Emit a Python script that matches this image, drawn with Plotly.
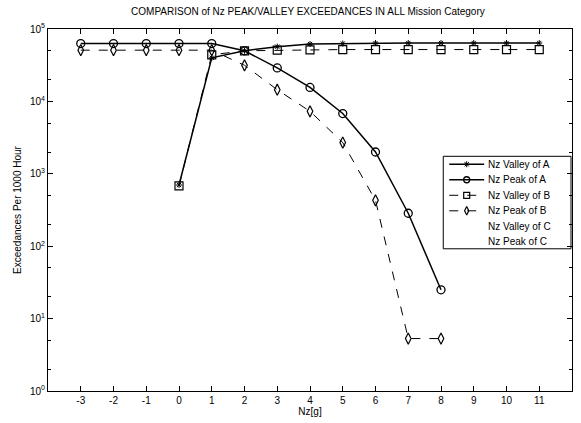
import plotly.graph_objects as go

# Load factor bins (g)
nz = [-3, -2, -1, 0, 1, 2, 3, 4, 5, 6, 7, 8, 9, 10, 11]
nz_labels = ["-3", "-2", "-1", "0", "1", "2", "3", "4", "5", "6", "7", "8", "9", "10", "11"]

# Exceedances per 1000 hours for each series (None = no data)
valley_a = [None, None, None, 700, 40000, 50000, 57000, 62000, 63000, 64000, 64000, 64000, 64000, 64000, 64000]
peak_a = [63000, 63000, 63000, 63000, 63000, 50000, 29000, 15600, 6800, 2000, 285, 25, None, None, None]
valley_b = [None, None, None, 680, 44000, 50000, 51000, 51500, 52000, 52000, 52000, 52000, 52000, 52000, 52000]
peak_b = [51000, 51000, 51000, 51000, 51000, 31500, 14500, 7300, 2700, 430, 5.3, 5.3, None, None, None]

series_names = ["Nz Valley of A", "Nz Peak of A", "Nz Valley of B",
                "Nz Peak of B", "Nz Valley of C", "Nz Peak of C"]

y_tickvals = [1, 10, 100, 1000, 10000, 100000]
y_ticktext = ["10<sup>0</sup>", "10<sup>1</sup>", "10<sup>2</sup>",
              "10<sup>3</sup>", "10<sup>4</sup>", "10<sup>5</sup>"]

FONT = "Liberation Sans, Arial, sans-serif"

# Line/marker style per series; category C has no recorded exceedances
styles = [
    dict(line=dict(color="black", width=1.5),
         marker=dict(symbol="asterisk-open", size=5, color="black", line=dict(width=1))),
    dict(line=dict(color="black", width=1.5),
         marker=dict(symbol="circle-open", size=8, color="black", line=dict(width=1.3))),
    dict(line=dict(color="black", width=1, dash="dash"),
         marker=dict(symbol="square-open", size=8, color="black", line=dict(width=1.2))),
    dict(line=dict(color="black", width=1, dash="dash"),
         marker=dict(symbol="diamond-tall-open", size=8, color="black", line=dict(width=1.2))),
    None,
    None,
]

fig = go.Figure()
for name, ys, st in zip(series_names[:4], [valley_a, peak_a, valley_b, peak_b], styles[:4]):
    fig.add_trace(go.Scatter(x=nz, y=ys, name=name, mode="lines+markers",
                             showlegend=False, **st))

# Legend drawn on an overlay axis measured in pixels of the plot area
LX0, LX1, LY0, LY1 = 444, 572, 157, 250
row_y0, row_dy = 165, 15.6
sample_x = [450, 467.5, 485]
fig.add_shape(type="rect", xref="x2", yref="y2", x0=LX0, x1=LX1, y0=LY0, y1=LY1,
              line=dict(color="black", width=1), fillcolor="white", layer="below")
for i, (name, st) in enumerate(zip(series_names, styles)):
    ry = row_y0 + i * row_dy
    if st is not None:
        fig.add_trace(go.Scatter(
            x=sample_x, y=[ry] * 3, xaxis="x2", yaxis="y2", mode="lines",
            line=st["line"], showlegend=False, hoverinfo="skip"))
        key_marker = dict(st["marker"])
        key_marker["size"] = max(5, st["marker"]["size"] - 2)
        fig.add_trace(go.Scatter(
            x=[sample_x[1]], y=[ry], xaxis="x2", yaxis="y2", mode="markers",
            marker=key_marker, showlegend=False, hoverinfo="skip"))
    fig.add_annotation(xref="x2", yref="y2", x=487, y=ry, text=name,
                       showarrow=False, xanchor="left", yanchor="middle",
                       font=dict(family=FONT, size=10, color="black"))

axis_common = dict(
    ticks="inside", ticklen=5, tickcolor="black",
    showline=True, linecolor="black", linewidth=1, mirror="ticks",
    showgrid=False, zeroline=False,
)

fig.update_layout(
    width=581, height=423,
    margin=dict(l=48, r=8, t=29, b=30),
    paper_bgcolor="white", plot_bgcolor="white",
    font=dict(family=FONT, size=10, color="black"),
    title=dict(
        text="COMPARISON of Nz PEAK/VALLEY EXCEEDANCES IN ALL Mission Category",
        x=0.53, xanchor="center", y=0.972, yanchor="middle",
        font=dict(family=FONT, size=10, color="black"),
    ),
    showlegend=False,
    xaxis=dict(
        range=[-4, 12], tickmode="array", tickvals=nz, ticktext=nz_labels,
        title=dict(text="Nz[g]", standoff=2, font=dict(family=FONT, size=10)),
        **axis_common,
    ),
    yaxis=dict(
        type="log", range=[0, 5],
        tickmode="array", tickvals=y_tickvals, ticktext=y_ticktext,
        minor=dict(ticks="inside", ticklen=3, tickcolor="black", showgrid=False),
        title=dict(text="Exceedances Per 1000 Hour", standoff=6, font=dict(family=FONT, size=10)),
        **axis_common,
    ),
    xaxis2=dict(overlaying="x", range=[48, 573], visible=False, fixedrange=True),
    yaxis2=dict(overlaying="y", range=[393, 29], visible=False, fixedrange=True),
)

fig.write_html("out.html")
